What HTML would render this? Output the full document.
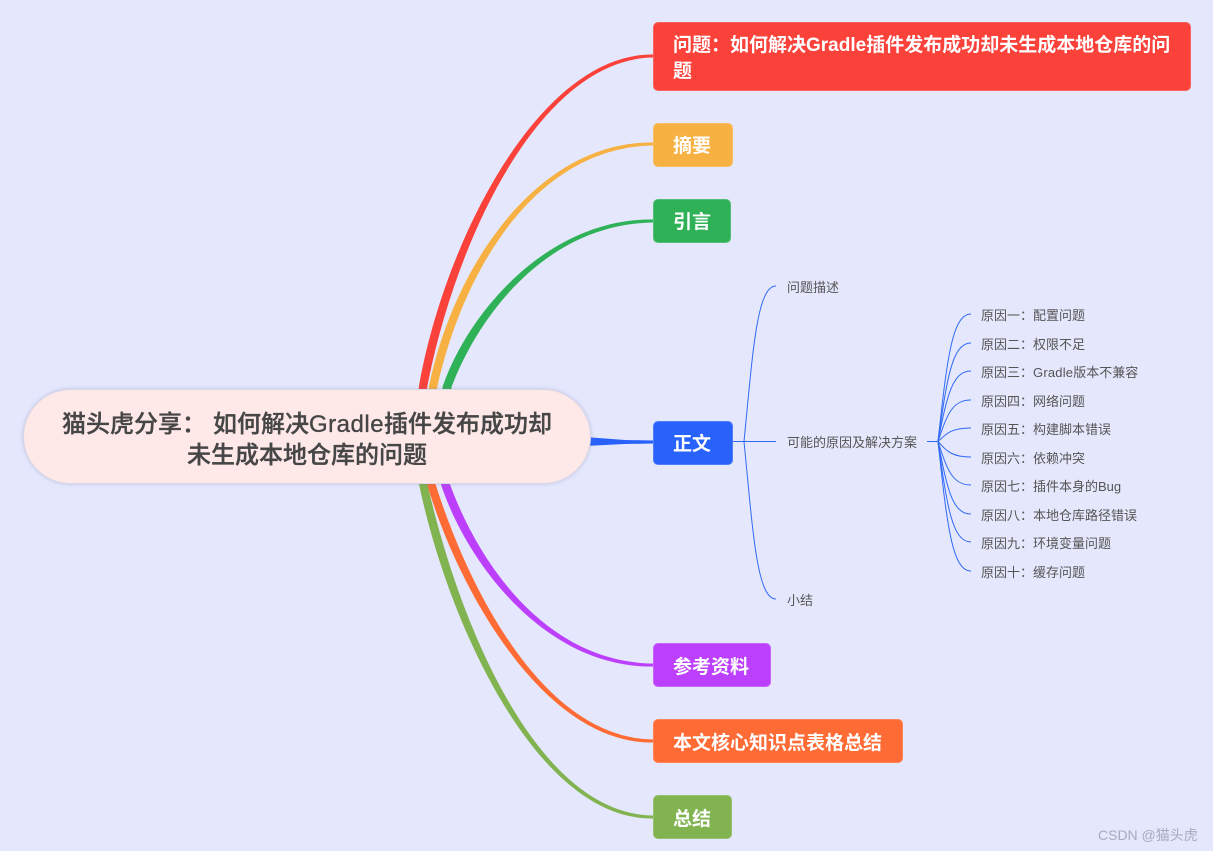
<!DOCTYPE html>
<html lang="zh"><head><meta charset="utf-8"><style>
html,body{margin:0;padding:0}
body{width:1213px;height:851px;overflow:hidden;background:#e5e8fd;position:relative;font-family:"Liberation Sans","Noto Sans CJK SC",sans-serif}
svg{position:absolute;left:0;top:0}
.n{position:absolute;box-sizing:border-box;border-radius:5px;color:#fff;font-size:19px;font-weight:700;line-height:25px;border:1px solid rgba(255,255,255,.18)}
.n span{position:absolute;left:19px;white-space:nowrap}
.t{position:absolute;font-size:13px;line-height:18px;color:#555;white-space:nowrap}
.root{position:absolute;left:23px;top:389px;width:568px;height:95px;box-sizing:border-box;border-radius:47.5px;background:#fee8e8;border:1px solid #d9d8e6;box-shadow:0 0 4px rgba(120,120,170,.35)}
.r{position:absolute;font-size:24px;line-height:32px;color:#464646;white-space:nowrap;font-weight:500;-webkit-text-stroke:.35px #464646}
</style></head><body>
<svg width="1213" height="851" viewBox="0 0 1213 851" fill="none">
<path d="M418.8 396V387C444.5 240 540 53 653 54.5V57.5C540 59 455.5 240 427.2 387V396Z" fill="#fa423b"/>
<path d="M428.8 396V387C454.5 262 540 141 653 142.5V145.5C540 147 465.5 262 437.2 387V396Z" fill="#f6b142"/>
<path d="M442.5 396V387C469 310 550 218 653 219.5V222.5C550 224 481 310 451.5 387V396Z" fill="#2fb158"/>
<path d="M418.8 476V483C446.5 618 535 820 653 818.5V815.5C535 814 457.5 618 427.2 483V476Z" fill="#81b350"/>
<path d="M426.8 476V483C454.5 580 540 744 653 742.5V739.5C540 738 465.5 580 435.2 483V476Z" fill="#ff6b35"/>
<path d="M440.5 476V483C466 562 545 668 653 666.5V663.5C545 662 478 562 449.5 483V476Z" fill="#bc40fb"/>
<path d="M585 437L625 440L654 440.5V443.5L625 444L585 446Z" fill="#2962fb"/>
<g stroke="#2f69f5" stroke-width="1" fill="none">
<path d="M733 441.5H776"/>
<path d="M744 441.5C753 350 757 286 776 286"/>
<path d="M744 441.5C753 533 757 599 776 599"/>
<path d="M927 441.5H938"/>
<path d="M938 441.5C947 359.9 952 314 971 314"/>
<path d="M938 441.5C947 378.5 952 343 971 343"/>
<path d="M938 441.5C947 396.4 952 371 971 371"/>
<path d="M938 441.5C947 414.9 952 400 971 400"/>
<path d="M938 441.5C947 432.9 952 428 971 428"/>
<path d="M938 441.5C947 451.4 952 457 971 457"/>
<path d="M938 441.5C947 469.3 952 485 971 485"/>
<path d="M938 441.5C947 487.9 952 514 971 514"/>
<path d="M938 441.5C947 505.8 952 542 971 542"/>
<path d="M938 441.5C947 524.4 952 571 971 571"/>
</g>
</svg>

<div class="root"></div>
<div class="r" style="left:62px;top:409px">猫头虎分享：</div>
<div class="r" style="left:213px;top:409px">如何解决<span style="letter-spacing:.5px">Gradle</span>插件发布成功却</div>
<div class="r" style="left:187px;top:440px">未生成本地仓库的问题</div>

<div class="n" style="left:653px;top:22px;width:538px;height:69px;background:#fa423b"><span style="top:10px">问题：如何解决Gradle插件发布成功却未生成本地仓库的问</span><span style="top:36px">题</span></div>
<div class="n" style="left:653px;top:123px;width:80px;height:44px;background:#f6b142"><span style="top:10px">摘要</span></div>
<div class="n" style="left:653px;top:199px;width:78px;height:44px;background:#2fb158"><span style="top:10px">引言</span></div>
<div class="n" style="left:653px;top:421px;width:80px;height:44px;background:#2962fb"><span style="top:10px">正文</span></div>
<div class="n" style="left:653px;top:643px;width:118px;height:44px;background:#bc40fb"><span style="top:11px">参考资料</span></div>
<div class="n" style="left:653px;top:719px;width:250px;height:44px;background:#ff6b35"><span style="top:11px">本文核心知识点表格总结</span></div>
<div class="n" style="left:653px;top:795px;width:79px;height:44px;background:#81b350"><span style="top:11px">总结</span></div>

<div class="t" style="left:787px;top:279px">问题描述</div>
<div class="t" style="left:787px;top:434px">可能的原因及解决方案</div>
<div class="t" style="left:787px;top:592px">小结</div>
<div class="t" style="left:981px;top:307px">原因一：配置问题</div>
<div class="t" style="left:981px;top:336px">原因二：权限不足</div>
<div class="t" style="left:981px;top:364px">原因三：<span style="letter-spacing:.2px">Gradle</span>版本不兼容</div>
<div class="t" style="left:981px;top:393px">原因四：网络问题</div>
<div class="t" style="left:981px;top:421px">原因五：构建脚本错误</div>
<div class="t" style="left:981px;top:450px">原因六：依赖冲突</div>
<div class="t" style="left:981px;top:478px">原因七：插件本身的Bug</div>
<div class="t" style="left:981px;top:507px">原因八：本地仓库路径错误</div>
<div class="t" style="left:981px;top:535px">原因九：环境变量问题</div>
<div class="t" style="left:981px;top:564px">原因十：缓存问题</div>
<div style="position:absolute;left:1098px;top:826px;font-size:14px;line-height:18px;color:#a9aabb;white-space:nowrap">CSDN @猫头虎</div>
</body></html>
